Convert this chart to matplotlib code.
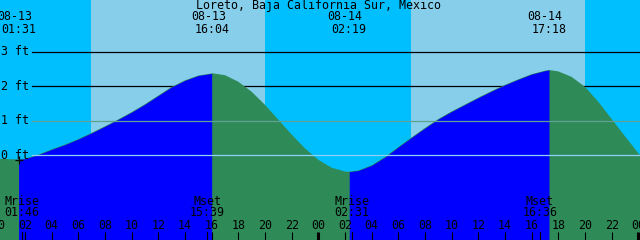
import matplotlib
matplotlib.use("Agg")
import matplotlib.pyplot as plt
import matplotlib.transforms as mtransforms
import numpy as np

# === DATA ===
title = "Loreto, Baja California Sur, Mexico"
days = ["08-13", "08-14"]

# tide level (ft), hours from 08-13 00:00
tide_hours = [0, 1, 1.517, 2, 3, 4, 5, 6, 7, 8, 9, 10, 11, 12, 13, 14, 15, 16, 16.067,
              17, 18, 19, 20, 21, 22, 23, 24, 25, 26, 26.317,
              27, 28, 29, 30, 31, 32, 33, 34, 35, 36, 37, 38, 39, 40, 41, 41.3,
              42, 43, 44, 45, 46, 47, 48, 48.125]
tide_ft = [-0.10, -0.115, -0.12, -0.10, 0.02, 0.17, 0.31, 0.47, 0.65, 0.84, 1.04, 1.25, 1.48, 1.73, 1.98, 2.17, 2.31, 2.37, 2.375,
           2.32, 2.13, 1.84, 1.46, 1.03, 0.60, 0.20, -0.13, -0.36, -0.47, -0.475,
           -0.44, -0.29, -0.05, 0.24, 0.52, 0.79, 1.05, 1.27, 1.47, 1.67, 1.86, 2.04, 2.20, 2.35, 2.45, 2.47,
           2.43, 2.27, 1.98, 1.55, 1.05, 0.55, 0.06, 0.01]

# tide extremes
extreme_day = [0, 0, 1, 1]
extreme_time = ["01:31", "16:04", "02:19", "17:18"]
extreme_kind = ["low", "high", "low", "high"]

# moon events
moon_label = ["Mrise", "Mset", "Mrise", "Mset"]
moon_day = [0, 0, 1, 1]
moon_time = ["01:46", "15:39", "02:31", "16:36"]

# sun
sunrise = ["06:57", "06:57"]
sunset = ["20:00", "19:59"]

level_lines = [3, 2, 1, 0]

# === STYLE ===
NIGHT = "#00BFFF"
DAY = "#87CEEB"
RISING = "#0000FF"
FALLING = "#2E8B57"
FONT = "DejaVu Sans Mono"
FS = 8.4

XMIN, XMAX = 0.125, 48.125
YMIN, YMAX = -2.453, 4.497


def to_h(day, hhmm):
    hh, mm = hhmm.split(":")
    return day * 24 + int(hh) + int(mm) / 60.0


def yfrac(px):
    return 1 - px / 240.0


t = np.array(tide_hours)
v = np.array(tide_ft)

fig = plt.figure(figsize=(6.4, 2.4), dpi=100)
ax = fig.add_axes([0, 0, 1, 1])
ax.set_xlim(XMIN, XMAX)
ax.set_ylim(YMIN, YMAX)
ax.axis("off")
blend = mtransforms.blended_transform_factory(ax.transData, ax.transAxes)

# sky: night / day
ax.axvspan(XMIN, XMAX, color=NIGHT, zorder=0, lw=0)
for d in range(2):
    ax.axvspan(to_h(d, sunrise[d]), to_h(d, sunset[d]), color=DAY, zorder=0.5, lw=0)

# 3 ft / 2 ft lines sit behind the water
for lv in level_lines:
    if lv >= 2:
        ax.plot([2.525, XMAX], [lv, lv], color="black", lw=0.9, zorder=1)

# water: falling colour everywhere, rising parts drawn over it
ext_h = [to_h(d, s) for d, s in zip(extreme_day, extreme_time)]
ax.fill_between(t, v, YMIN, color=FALLING, lw=0, zorder=2)
for i in range(len(ext_h) - 1):
    if extreme_kind[i] != "low":
        continue
    m = (t >= ext_h[i]) & (t <= ext_h[i + 1])
    ax.fill_between(t[m], v[m], YMIN, color=RISING, lw=0, zorder=2.1)

# 1 ft and 0 ft lines on top
ax.plot([2.525, XMAX], [1, 1], color="#5FA093", lw=0.9, zorder=3)
ax.plot([2.525, XMAX], [0, 0], color="#8FD0F5", lw=0.9, zorder=3)

for lv in level_lines:
    ax.text(0.2, lv, f"{lv} ft", fontfamily=FONT, fontsize=FS, va="center", ha="left", zorder=5)

ax.plot(1.55, -0.136, marker="+", color="black", ms=6, mew=0.9, zorder=4)

# title
ax.text(24.0, yfrac(6), title, transform=blend, fontfamily=FONT, fontsize=FS,
        ha="center", va="center", zorder=5)

# extreme labels
for d, s, h in zip(extreme_day, extreme_time, ext_h):
    ax.text(h - 0.3, yfrac(16.7), days[d], transform=blend, fontfamily=FONT, fontsize=FS,
            ha="center", va="center", zorder=5)
    ax.text(h, yfrac(29.3), s, transform=blend, fontfamily=FONT, fontsize=FS,
            ha="center", va="center", zorder=5)

# moon labels + markers
for lab, d, s in zip(moon_label, moon_day, moon_time):
    h = to_h(d, s)
    ax.text(h, yfrac(201.7), lab, transform=blend, fontfamily=FONT, fontsize=FS,
            ha="center", va="center", zorder=5)
    ax.text(h, yfrac(213), s, transform=blend, fontfamily=FONT, fontsize=FS,
            ha="center", va="center", zorder=5)
    ax.plot([h, h], [0, 8 / 240.0], transform=blend, color="black", lw=0.8, zorder=4)

# hour ticks
for h in range(0, 50, 2):
    ax.text(h, yfrac(225.5), f"{h % 24:02d}", transform=blend, fontfamily=FONT, fontsize=FS,
            ha="center", va="center", zorder=5)
    lw = 2.2 if h % 24 == 0 else 0.8
    ax.plot([h, h], [0, 8 / 240.0], transform=blend, color="black", lw=lw, zorder=4,
            solid_capstyle="butt")

fig.savefig("out.png", dpi=100)
